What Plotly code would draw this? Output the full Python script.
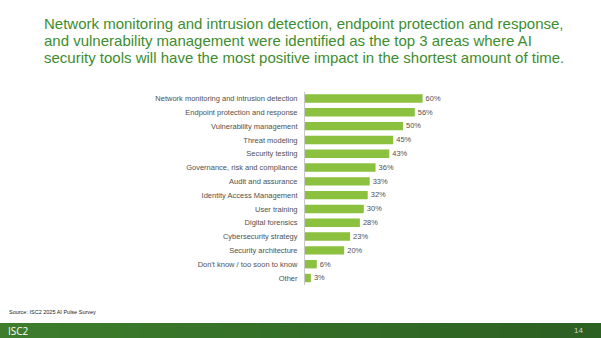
import plotly.graph_objects as go

categories = [
    "Network monitoring and intrusion detection",
    "Endpoint protection and response",
    "Vulnerability management",
    "Threat modeling",
    "Security testing",
    "Governance, risk and compliance",
    "Audit and assurance",
    "Identity Access Management",
    "User training",
    "Digital forensics",
    "Cybersecurity strategy",
    "Security architecture",
    "Don't know / too soon to know",
    "Other",
]
values = [60, 56, 50, 45, 43, 36, 33, 32, 30, 28, 23, 20, 6, 3]
labels = [f"{v}%" for v in values]
title_lines = [
    "Network monitoring and intrusion detection, endpoint protection and response,",
    "and vulnerability management were identified as the top 3 areas where AI",
    "security tools will have the most positive impact in the shortest amount of time.",
]

W, H = 601, 338
BAR = "#8cc03f"
GRAY = "#505050"

fig = go.Figure(go.Bar(
    x=values, y=categories, orientation="h",
    marker=dict(color=BAR, line=dict(width=0)),
    width=0.61,
    text=labels, textposition="outside", cliponaxis=False,
    textfont=dict(family="Liberation Sans, Arial", size=8, color=GRAY),
    hoverinfo="skip",
))

fig.update_layout(
    width=W, height=H,
    margin=dict(l=0, r=0, t=0, b=0),
    paper_bgcolor="white", plot_bgcolor="white",
    showlegend=False,
    font=dict(family="Liberation Sans, Arial", color=GRAY),
    xaxis=dict(domain=[305 / W, 501 / W], range=[0, 100], visible=False, fixedrange=True),
    yaxis=dict(domain=[(H - 284.9) / H, (H - 91.6) / H], autorange="reversed",
               showline=True, linecolor="#c8c8c8", linewidth=1,
               ticks="", ticklabelstandoff=5, showgrid=False,
               tickfont=dict(size=7.5, color=GRAY), fixedrange=True),
)

# Title (one annotation per line for tight line spacing)
for i, line in enumerate(title_lines):
    fig.add_annotation(
        text=line, xref="paper", yref="paper",
        x=42 / W, y=1 - (23 + 17.5 * i) / H, xanchor="left", yanchor="middle",
        align="left", showarrow=False,
        font=dict(family="Liberation Sans, Arial", size=15, color="#3d8d2e"),
    )

# Source
fig.add_annotation(
    text="Source: ISC2 2025 AI Pulse Survey",
    xref="paper", yref="paper", x=7 / W, y=1 - 312 / H, xanchor="left", yanchor="middle",
    showarrow=False, font=dict(family="Liberation Sans, Arial", size=5.5, color="#222222"),
)

# Footer gradient band
n = 30
c0 = (0x3d, 0x7d, 0x2c)
c1 = (0x2c, 0x5f, 0x22)
for i in range(n):
    t = i / (n - 1)
    col = "#%02x%02x%02x" % tuple(int(round(a + (b - a) * t)) for a, b in zip(c0, c1))
    fig.add_shape(type="rect", xref="paper", yref="paper",
                  x0=i / n, x1=(i + 1) / n + 0.002, y0=0, y1=15 / H,
                  fillcolor=col, line=dict(width=0), layer="below")

fig.add_annotation(
    text="ISC2", xref="paper", yref="paper", x=6 / W, y=7.5 / H,
    xanchor="left", yanchor="middle", showarrow=False,
    font=dict(family="Open Sans, Liberation Sans", size=10, color="white"),
)
fig.add_annotation(
    text="14", xref="paper", yref="paper", x=585 / W, y=7.5 / H,
    xanchor="right", yanchor="middle", showarrow=False,
    font=dict(family="Liberation Sans, Arial", size=8, color="#cfd9c8"),
)

fig.write_html("out.html")
